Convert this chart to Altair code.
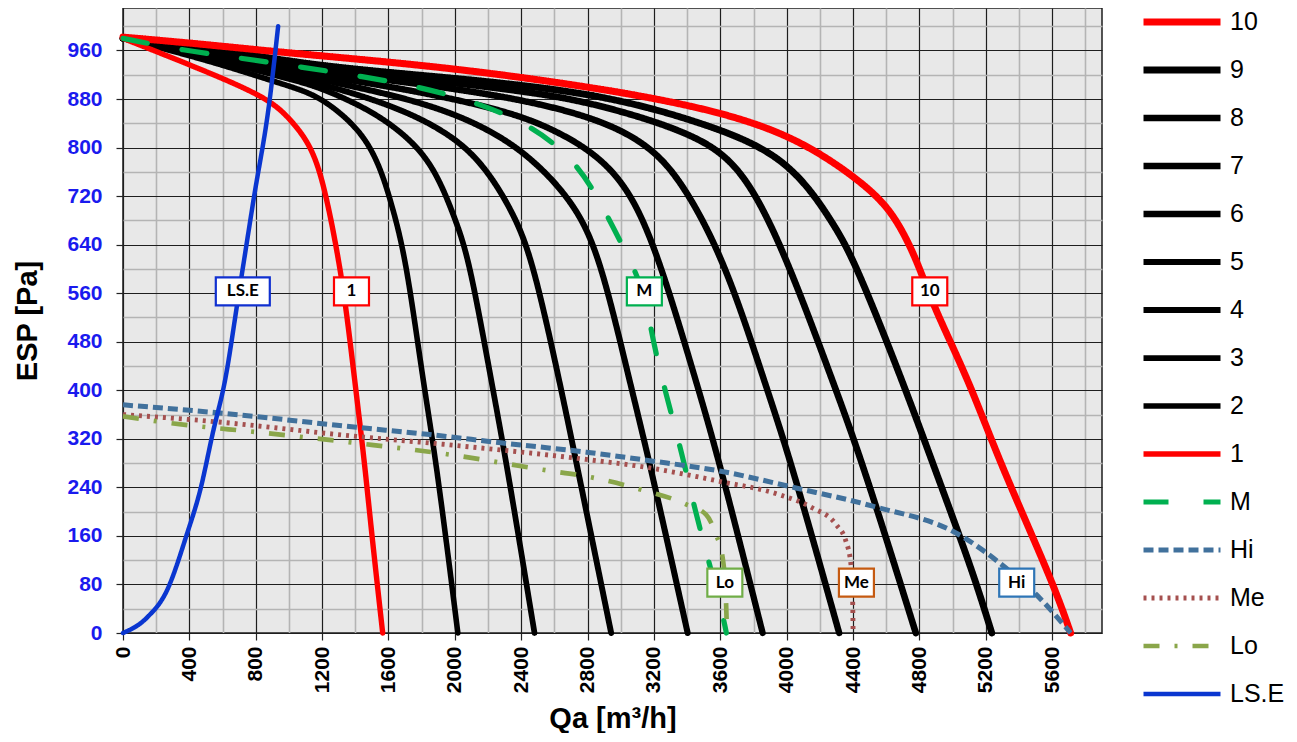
import altair as alt
import pandas as pd

# ---------------- data ----------------
SERIES = ["10", "9", "8", "7", "6", "5", "4", "3", "2", "1", "M", "Hi", "Me", "Lo", "LS.E"]
COLORS = ["#FF0000"] + ["#000000"] * 8 + ["#FF0000", "#00B050", "#41719C", "#A5504F", "#8AA64A", "#0A36D0"]
WIDTHS = [7, 4.5, 4.5, 4.5, 4.5, 4.5, 4.5, 4.5, 4.5, 7, 7, 3.5, 3, 3.5, 2.8]
DASHES = [[1, 0]] * 10 + [[25, 35], [10, 5], [3, 5], [16, 15, 3, 15], [1, 0]]

c10_x = [0, 500, 945, 1949, 2872, 3474, 3876, 4177, 4478, 4650, 4789, 4879, 5100, 5280, 5601, 5711]
c10_y = [982, 970, 957, 933, 898, 867, 835, 796, 738, 690, 612, 541, 415, 283, 86, 0]

c9_x = [0, 500, 1146, 2000, 2872, 3474, 3996, 4277, 4412, 4698, 4876, 5039, 5145, 5236]
c9_y = [980, 966, 934, 915, 889, 843, 788, 678, 612, 415, 283, 162, 80, 0]

c8_x = [0, 500, 1146, 1900, 2500, 2872, 3474, 3755, 4010, 4277, 4455, 4778]
c8_y = [980, 964, 930, 910, 890, 871, 821, 760, 612, 415, 283, 0]

c7_x = [0, 500, 1146, 1800, 2400, 2872, 3173, 3373, 3629, 3865, 4026, 4316]
c7_y = [980, 962, 926, 905, 880, 847, 804, 743, 612, 415, 283, 0]

c6_x = [0, 500, 1146, 1700, 2300, 2600, 2872, 3073, 3238, 3454, 3594, 3855]
c6_y = [980, 960, 920, 897, 862, 830, 786, 722, 612, 415, 283, 0]

c5_x = [0, 500, 1146, 1547, 1949, 2270, 2511, 2740, 2882, 3053, 3173, 3403]
c5_y = [980, 957, 914, 892, 862, 821, 771, 700, 612, 415, 283, 0]

c4_x = [0, 500, 1146, 1447, 1748, 2009, 2190, 2360, 2471, 2631, 2731, 2942]
c4_y = [980, 954, 908, 885, 855, 815, 766, 689, 612, 415, 283, 0]

c3_x = [0, 500, 945, 1146, 1347, 1547, 1748, 1889, 2009, 2089, 2220, 2310, 2480]
c3_y = [980, 950, 917, 903, 880, 852, 810, 760, 678, 612, 415, 283, 0]

c2_x = [0, 500, 945, 1146, 1306, 1447, 1547, 1627, 1708, 1808, 1888, 2018]
c2_y = [980, 945, 906, 889, 859, 821, 771, 700, 612, 415, 283, 0]

c1_x = [0, 463, 865, 1000, 1146, 1226, 1290, 1340, 1397, 1455, 1500, 1565]
c1_y = [980, 930, 883, 850, 800, 720, 630, 546, 415, 283, 160, 0]

m_x = [0, 363, 724, 1066, 1447, 1788, 2149, 2471, 2732, 2892, 3053, 3143, 3193, 3273, 3365, 3454, 3514, 3614, 3636]
m_y = [980, 960, 947, 933, 917, 900, 873, 835, 777, 703, 615, 563, 481, 393, 300, 195, 135, 31, 0]

hi_x = [0, 604, 1407, 1848, 2290, 2792, 3173, 3594, 4056, 4518, 5039, 5321, 5501, 5711]
hi_y = [376, 362, 339, 327, 313, 298, 284, 267, 239, 209, 162, 107, 64, 0]

me_x = [0, 524, 1407, 1929, 2792, 3153, 3594, 3955, 4156, 4297, 4357, 4387, 4397, 4400]
me_y = [360, 349, 324, 311, 286, 273, 250, 228, 206, 179, 151, 113, 58, 0]

lo_x = [0, 283, 845, 1407, 1969, 2531, 2832, 3113, 3394, 3514, 3574, 3614, 3634, 3640]
lo_y = [357, 346, 330, 313, 294, 269, 256, 237, 212, 195, 162, 124, 53, 0]

lse_x = [0, 143, 263, 384, 464, 544, 614, 700, 785, 885, 935]
lse_y = [0, 25, 69, 162, 234, 333, 415, 563, 711, 881, 1000]

LABEL_TEXT = ["LS.E", "1", "M", "10", "Lo", "Me", "Hi"]
LABEL_X = [722, 1377, 3142, 4862, 3627, 4420, 5386]
LABEL_Y = [563, 563, 563, 563, 83, 83, 83]
LABEL_BORDER = ["#1030D0", "#FF0000", "#00B050", "#FF0000", "#70AD47", "#C55A11", "#2E75B6"]

X_TICKS = list(range(0, 5900, 200))
Y_TICKS = list(range(0, 1040, 40))

# ---------------- table ----------------
curves = {
    "10": (c10_x, c10_y), "9": (c9_x, c9_y), "8": (c8_x, c8_y), "7": (c7_x, c7_y),
    "6": (c6_x, c6_y), "5": (c5_x, c5_y), "4": (c4_x, c4_y), "3": (c3_x, c3_y),
    "2": (c2_x, c2_y), "1": (c1_x, c1_y), "M": (m_x, m_y), "Hi": (hi_x, hi_y),
    "Me": (me_x, me_y), "Lo": (lo_x, lo_y), "LS.E": (lse_x, lse_y),
}
rows = []
for s, (xs, ys) in curves.items():
    for i, (xv, yv) in enumerate(zip(xs, ys)):
        rows.append({"series": s, "x": xv, "y": yv, "i": i})
df = pd.DataFrame(rows)

labels = pd.DataFrame({"t": LABEL_TEXT, "x": LABEL_X, "y": LABEL_Y, "bc": LABEL_BORDER})

# ---------------- encodings ----------------
FONT = "Liberation Sans"
x_axis = alt.Axis(
    title="Qa [m³/h]", values=X_TICKS, format="d",
    labelExpr="datum.value % 400 === 0 ? datum.label : ''",
    labelAngle=270, labelFont=FONT, labelFontSize=21, labelFontWeight="bold",
    labelColor="#000000", labelFlush=False, labelOverlap=False, labelPadding=6,
    tickSize=7, tickColor="#222222", tickWidth=1.2,
    tickOpacity={"condition": {"test": "datum.value % 400 === 0", "value": 1}, "value": 0},
    gridColor={"condition": {"test": "datum.value % 400 === 0", "value": "#1e1e1e"}, "value": "#b4b4b4"},
    gridWidth={"condition": {"test": "datum.value % 400 === 0", "value": 1.2}, "value": 1.6},
    gridOpacity=1, domain=False,
    titleFont=FONT, titleFontSize=29, titleFontWeight="bold", titleColor="#000000", titlePadding=12,
)
y_axis = alt.Axis(
    title="ESP [Pa]", values=Y_TICKS, format="d",
    labelExpr="datum.value % 80 === 0 ? datum.label : ''",
    labelFont=FONT, labelFontSize=21, labelFontWeight="bold", labelColor="#1a1aee",
    labelFlush=False, labelOverlap=False, labelPadding=14,
    tickSize=7, tickColor="#222222", tickWidth=1.2,
    tickOpacity={"condition": {"test": "datum.value % 80 === 0", "value": 1}, "value": 0},
    gridColor={"condition": {"test": "datum.value % 80 === 0", "value": "#1e1e1e"}, "value": "#b4b4b4"},
    gridWidth={"condition": {"test": "datum.value % 80 === 0", "value": 1.2}, "value": 1.6},
    gridOpacity=1, domain=False,
    titleFont=FONT, titleFontSize=29, titleFontWeight="bold", titleColor="#000000", titlePadding=24,
)
x_enc = alt.X("x:Q", scale=alt.Scale(domain=[0, 5900], nice=False, zero=False), axis=x_axis)
y_enc = alt.Y("y:Q", scale=alt.Scale(domain=[0, 1030], nice=False, zero=False), axis=y_axis)

leg = alt.Legend(
    title=None, orient="none", legendX=1017, legendY=-10, padding=0,
    symbolType="stroke", symbolSize=5929, clipHeight=48, rowPadding=0,
    labelFont=FONT, labelFontSize=25, labelColor="#000000", labelOffset=6,
    labelLimit=200, symbolLimit=40,
)
color_enc = alt.Color("series:N", scale=alt.Scale(domain=SERIES, range=COLORS), legend=leg)
dash_enc = alt.StrokeDash("series:N", scale=alt.Scale(domain=SERIES, range=DASHES), legend=leg)
width_enc = alt.StrokeWidth("series:N", scale=alt.Scale(domain=SERIES, range=WIDTHS), legend=leg)


def line_layer(names, cap, interp):
    return (
        alt.Chart(df)
        .transform_filter(alt.FieldOneOfPredicate(field="series", oneOf=names))
        .mark_line(interpolate=interp, strokeCap=cap, strokeJoin="round")
        .encode(x=x_enc, y=y_enc, color=color_enc, strokeDash=dash_enc,
                strokeWidth=width_enc, order="i:Q", detail="series:N")
    )


black = line_layer(["9", "8", "7", "6", "5", "4", "3", "2"], "round", "basis")
reds = line_layer(["10", "1"], "round", "basis")
mline = line_layer(["M"], "round", "basis")
fans = line_layer(["Hi", "Me", "Lo"], "butt", "monotone")
lse = line_layer(["LS.E"], "round", "monotone")

box_wide = (
    alt.Chart(labels).transform_filter("datum.t === 'LS.E'")
    .mark_rect(width=54, height=28, fill="white", strokeWidth=2.2)
    .encode(x=x_enc, y=y_enc, stroke=alt.Stroke("bc:N", scale=None, legend=None))
)
box = (
    alt.Chart(labels).transform_filter("datum.t !== 'LS.E'")
    .mark_rect(width=35, height=28, fill="white", strokeWidth=2.2)
    .encode(x=x_enc, y=y_enc, stroke=alt.Stroke("bc:N", scale=None, legend=None))
)
txt = (
    alt.Chart(labels)
    .mark_text(font="Lato", fontWeight="bold", fontSize=17, color="#000000",
               align="center", baseline="middle")
    .encode(x=x_enc, y=y_enc, text="t:N")
)

chart = (
    alt.layer(black, reds, mline, fans, lse, box_wide, box, txt)
    .properties(
        width=979, height=625,
        autosize=alt.AutoSizeParams(type="none"),
        padding={"left": 115, "top": 0, "right": 185, "bottom": 100},
        background="white",
    )
    .configure_view(fill="#E8E8E8", stroke="#1e1e1e", strokeWidth=1.5)
)

chart.save("out.html", embed_options={"renderer": "svg", "actions": False})
